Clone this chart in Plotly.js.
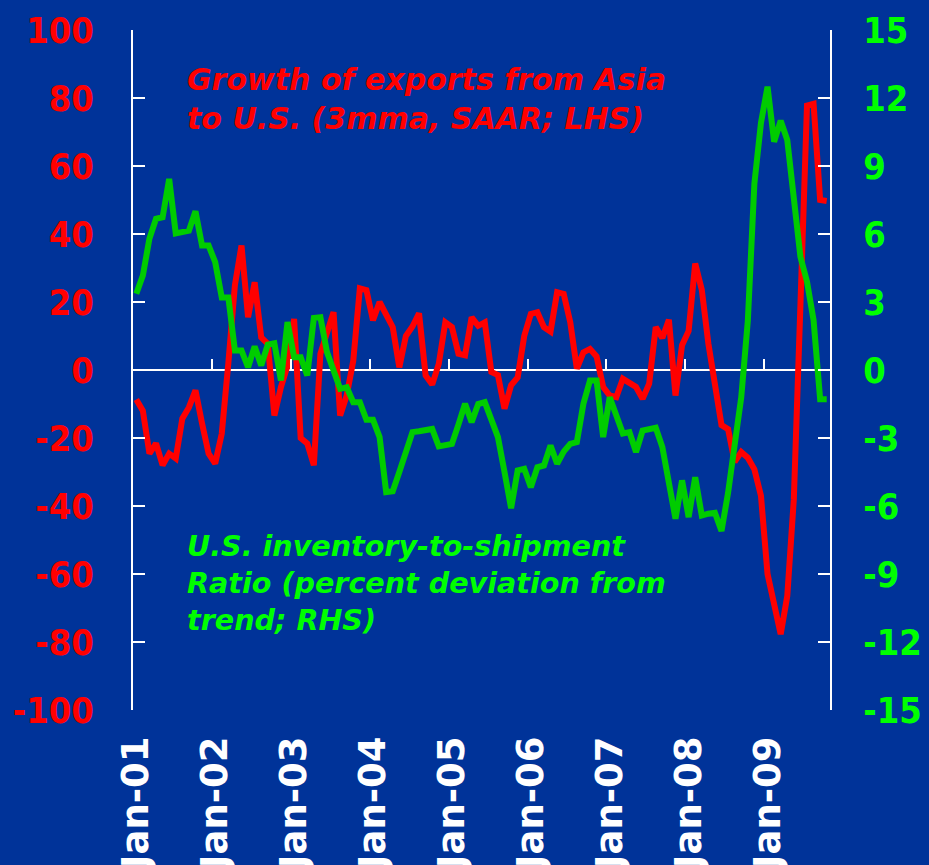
<!DOCTYPE html>
<html>
<head>
<meta charset="utf-8">
<script src="https://cdn.plot.ly/plotly-3.0.1.min.js"></script>
<style>
html,body{margin:0;padding:0;background:#003399;}
#chart{width:929px;height:865px;}
</style>
</head>
<body>
<div id="chart"></div>
<script>
// ---- data ----
const monthNames = ['Jan','Feb','Mar','Apr','May','Jun','Jul','Aug','Sep','Oct','Nov','Dec'];
const years = ['01','02','03','04','05','06','07','08','09'];
const nMonths = 106; // Jan-01 .. Oct-09

const months = [];
for (let i = 0; i < nMonths; i++) {
  months.push(monthNames[i % 12] + '-' + years[Math.floor(i / 12)]);
}
const tickLabels = ['Jan-01','Jan-02','Jan-03','Jan-04','Jan-05','Jan-06','Jan-07','Jan-08','Jan-09'];

// Growth of exports from Asia to U.S. (3mma, SAAR; LHS)
const exportsGrowth = [
  -8.7, -12, -24.6, -21.6, -28, -24.6, -26, -14.3, -11, -6,
  -15.7, -24.6, -27.5, -18.7, 2, 25, 36.6, 15.5, 25.8, 9.6,
  7.7, -13.4, -5, 1.3, 15, -20, -21.6, -28, 4.8, 11.6,
  17, -13.4, -7.5, 2.8, 24, 23.5, 14.6, 20, 16.5, 12.6,
  0.8, 10, 12.8, 16.7, -1.6, -4.3, 1.8, 14, 12.6, 4.8,
  4.3, 15.5, 13, 14, -0.6, -1.5, -11.4, -4.5, -2.2, 10,
  16.5, 17, 12.6, 11.3, 22.9, 22.4, 14, 0.4, 5.2, 6.2,
  4, -5, -7.5, -8, -2.6, -4, -5, -8.5, -4, 12.6,
  9.4, 14.8, -7.5, 7.3, 11.5, 31.3, 23.6, 7.8, -4.5, -16.2,
  -17.4, -27, -24.1, -25.8, -29.2, -37, -60, -70, -77.7, -66.5,
  -38, 19, 77.8, 78.3, 50, 49.7
];

// U.S. inventory-to-shipment ratio (percent deviation from trend; RHS)
const inventoryRatio = [
  3.36, 4.17, 5.8, 6.67, 6.74, 8.43, 6.03, 6.1, 6.15, 7.0,
  5.49, 5.49, 4.76, 3.2, 3.2, 0.86, 0.86, 0.12, 1.04, 0.2,
  1.12, 1.18, -0.46, 2.11, 0.56, 0.56, -0.24, 2.3, 2.33, 0.79,
  0.0, -0.83, -0.76, -1.42, -1.42, -2.2, -2.2, -2.96, -5.39, -5.35,
  -4.5, -3.6, -2.74, -2.7, -2.65, -2.6, -3.37, -3.3, -3.26, -2.4,
  -1.49, -2.3, -1.5, -1.42, -2.2, -2.96, -4.5, -6.1, -4.43, -4.36,
  -5.17, -4.29, -4.21, -3.33, -4.14, -3.6, -3.26, -3.18, -1.49, -0.46,
  -0.46, -2.96, -1.2, -2.0, -2.8, -2.74, -3.62, -2.67, -2.64, -2.55,
  -3.4, -5.0, -6.56, -4.87, -6.49, -4.73, -6.42, -6.34, -6.3, -7.1,
  -5.42, -3.3, -1.21, 2.16, 8.22, 10.9, 12.5, 10.07, 11.0, 10.15,
  7.3, 5.0, 3.9, 2.2, -1.29, -1.29
];

const leftTicks = [-100, -80, -60, -40, -20, 0, 20, 40, 60, 80, 100];
const leftTickText = ['-100', '-80', '-60', '-40', '-20', '0', '20', '40', '60', '80', '100'];
const rightTicks = [-15, -12, -9, -6, -3, 0, 3, 6, 9, 12, 15];
const rightTickText = ['-15', '-12', '-9', '-6', '-3', '0', '3', '6', '9', '12', '15'];

// ---- styling ----
const BG = '#003399';
const RED = '#ff0000';
const GREEN_LINE = '#00cc00';
const GREEN_TEXT = '#00ff00';
const AXIS_FONT = 'DejaVu Sans Condensed, DejaVu Sans, sans-serif';
const LABEL_FONT = 'DejaVu Sans, Verdana, sans-serif';

const traces = [
  {
    x: months, y: exportsGrowth, type: 'scatter', mode: 'lines',
    line: {color: RED, width: 6}, xaxis: 'x', yaxis: 'y', hoverinfo: 'skip'
  },
  {
    x: months, y: inventoryRatio, type: 'scatter', mode: 'lines',
    line: {color: GREEN_LINE, width: 6}, xaxis: 'x2', yaxis: 'y2', hoverinfo: 'skip'
  }
];

const layout = {
  width: 929, height: 865,
  paper_bgcolor: BG, plot_bgcolor: BG,
  showlegend: false,
  margin: {l: 133, r: 99, t: 30, b: 155, pad: 0},
  xaxis: {
    type: 'category', categoryorder: 'array', categoryarray: months,
    range: [-0.5, nMonths - 0.5],
    tickmode: 'array', tickvals: tickLabels, ticktext: tickLabels,
    tickangle: -90, ticks: '', showline: false, showgrid: false, zeroline: false,
    tickfont: {family: LABEL_FONT, size: 37, color: '#ffffff', weight: 'bold'},
    ticklabelstandoff: 18,
    automargin: false, fixedrange: true
  },
  // axis crossing at zero: tick marks between January categories
  xaxis2: {
    type: 'category', categoryorder: 'array', categoryarray: months,
    overlaying: 'x', anchor: 'free', position: 0.5, side: 'bottom',
    range: [-0.5, nMonths - 0.5],
    tickmode: 'linear', tick0: 0, dtick: 12, tickson: 'boundaries',
    ticks: 'inside', ticklen: 11, tickwidth: 2, tickcolor: '#ffffff',
    showticklabels: false, showline: false, showgrid: false, zeroline: false,
    automargin: false, fixedrange: true
  },
  yaxis: {
    range: [-100, 100], tickmode: 'array', tickvals: leftTicks, ticktext: leftTickText,
    ticks: 'inside', ticklen: 12, tickwidth: 2, tickcolor: '#ffffff',
    showline: true, linecolor: '#ffffff', linewidth: 2,
    showgrid: false, zeroline: true, zerolinecolor: '#ffffff', zerolinewidth: 2,
    tickfont: {family: AXIS_FONT, size: 36, color: RED, weight: 'bold'},
    ticklabelstandoff: 30,
    automargin: false, fixedrange: true
  },
  yaxis2: {
    overlaying: 'y', side: 'right', anchor: 'x',
    range: [-15, 15], tickmode: 'array', tickvals: rightTicks, ticktext: rightTickText,
    ticks: 'inside', ticklen: 12, tickwidth: 2, tickcolor: '#ffffff',
    showline: true, linecolor: '#ffffff', linewidth: 2,
    showgrid: false, zeroline: false,
    tickfont: {family: AXIS_FONT, size: 36, color: GREEN_TEXT, weight: 'bold'},
    ticklabelstandoff: 24,
    automargin: false, fixedrange: true
  },
  annotations: [
    {
      xref: 'paper', yref: 'paper', x: 0.0746, y: 0.8985,
      xanchor: 'left', yanchor: 'middle', align: 'left', showarrow: false,
      text: '<b><i>Growth of exports from Asia<br>to U.S. (3mma, SAAR; LHS)</i></b>',
      font: {family: LABEL_FONT, size: 30, color: RED}
    },
    {
      xref: 'paper', yref: 'paper', x: 0.0746, y: 0.1868,
      xanchor: 'left', yanchor: 'middle', align: 'left', showarrow: false,
      text: '<b><i>U.S. inventory-to-shipment<br>Ratio (percent deviation from<br>trend; RHS)</i></b>',
      font: {family: LABEL_FONT, size: 28.6, color: GREEN_TEXT}
    }
  ]
};

Plotly.newPlot('chart', traces, layout, {staticPlot: true, displayModeBar: false});
</script>
</body>
</html>
